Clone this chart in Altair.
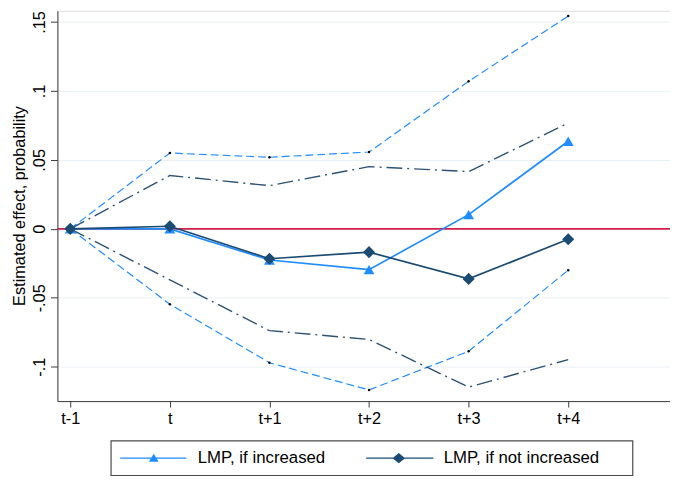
import altair as alt
import pandas as pd

# ---- data ----
periods = [-1, 0, 1, 2, 3, 4]
x_labels = ["t-1", "t", "t+1", "t+2", "t+3", "t+4"]
inc_est = [0.0, 0.0, -0.0226, -0.0296, 0.0103, 0.0635]
inc_hi = [0.0, 0.0550, 0.0519, 0.0557, 0.1070, 0.1543]
inc_lo = [0.0, -0.0547, -0.0971, -0.1168, -0.0888, -0.0300]
not_est = [0.0, 0.0019, -0.0217, -0.0169, -0.0363, -0.0076]
not_hi = [0.0, 0.0387, 0.0313, 0.0451, 0.0415, 0.0767]
not_lo = [0.0, -0.0370, -0.0738, -0.0802, -0.1148, -0.0948]
y_ticks = [-0.1, -0.05, 0, 0.05, 0.1, 0.15]
y_labels = ["-.1", "-.05", "0", ".05", ".1", ".15"]
series = ["LMP, if increased", "LMP, if not increased"]

FONT = "Liberation Sans"
LB = "#1f8cff"
NAVY = "#1b4a72"
NAVY_CI = "#2c5276"
RED = "#d61f48"
AX = "#3c3c3c"

df = pd.DataFrame({
    "period": periods,
    "inc_est": inc_est, "inc_hi": inc_hi, "inc_lo": inc_lo,
    "not_est": not_est, "not_hi": not_hi, "not_lo": not_lo,
})

x_expr = f"{x_labels}[datum.value - ({periods[0]})]"
y_step = y_ticks[1] - y_ticks[0]
y_expr = f"{y_labels}[round((datum.value - ({y_ticks[0]})) / {y_step})]"

x_enc = alt.X(
    "period:Q",
    scale=alt.Scale(domain=[-1.129, 5.022], nice=False, zero=False),
    axis=alt.Axis(values=periods, labelExpr=x_expr, title=None, grid=False,
                  tickSize=6, labelPadding=4, labelFontSize=16.5, labelFont=FONT,
                  labelColor="black", domainColor=AX, tickColor=AX,
                  labelAngle=0),
)
y_scale = alt.Scale(domain=[-0.1249, 0.1581], nice=False, zero=False)
y_axis = alt.Axis(values=y_ticks, labelExpr=y_expr, labelAngle=270,
                  labelAlign="center", labelBaseline="alphabetic",
                  tickSize=7, labelPadding=6, labelFontSize=16.5, labelFont=FONT,
                  labelColor="black", domainColor=AX, tickColor=AX,
                  grid=True, gridColor="#e8f0f3", gridWidth=1,
                  title="Estimated effect, probability", titleAngle=270,
                  titleX=-33, titleY=197, titleAlign="center",
                  titleBaseline="alphabetic", titleFont=FONT,
                  titleFontSize=16.5, titleFontWeight="normal",
                  titleColor="black")

base = alt.Chart(df)

zero_rule = base.mark_rule(color=RED, strokeWidth=1.6).encode(
    y=alt.Y("z:Q", scale=y_scale, axis=y_axis)
).transform_calculate(z="0").transform_filter("datum.period == 0")


def line(field, color, width, dash=None):
    kw = dict(color=color, strokeWidth=width)
    if dash:
        kw["strokeDash"] = dash
    return base.mark_line(**kw).encode(
        x=x_enc, y=alt.Y(f"{field}:Q", scale=y_scale, axis=y_axis))


def dots(field):
    return base.mark_circle(color="black", size=6, opacity=1).encode(
        x=x_enc, y=alt.Y(f"{field}:Q", scale=y_scale, axis=y_axis))


def markers(field, shape, color, size):
    return base.mark_point(filled=True, shape=shape, color=color, size=size,
                           opacity=1, strokeWidth=0).encode(
        x=x_enc, y=alt.Y(f"{field}:Q", scale=y_scale, axis=y_axis))


# legend symbols: a line with the marker on it
tri_path = "M-1,-0.09H7.375V0.09H-1Z M3.25,-0.55L3.875,0.45L2.625,0.45Z"
dia_path = "M-1,-0.09H7.5V0.09H-1Z M3.125,-0.65L3.925,0L3.125,0.65L2.325,0Z"

pad_sp = "\u2800" * 2
leg = alt.Legend(
    title=None, orient="none", legendX=54, legendY=435, direction="horizontal",
    symbolSize=256, symbolStrokeWidth=0, symbolOpacity=1,
    labelOffset=62, columnPadding=40, padding=9,
    strokeColor="#4a4a4a", fillColor="white", cornerRadius=0,
    labelFont=FONT, labelFontSize=17, labelColor="black", labelLimit=400,
    labelExpr=f"datum.label + (datum.label == '{series[1]}' ? '{pad_sp}' : '')",
)
leg_df = pd.DataFrame({"series": series, "period": [0, 0], "v": [0.0, 0.0]})
legend_layer = alt.Chart(leg_df).transform_filter("datum.v > 1").mark_point(
    filled=True, size=256, strokeWidth=0, opacity=1
).encode(
    x=x_enc,
    y=alt.Y("v:Q", scale=y_scale, axis=y_axis),
    fill=alt.Fill("series:N", scale=alt.Scale(domain=series, range=[LB, NAVY]),
                  legend=leg),
    shape=alt.Shape("series:N", scale=alt.Scale(domain=series, range=[tri_path, dia_path]),
                    legend=leg),
)

chart = alt.layer(
    zero_rule,
    line("inc_hi", LB, 1.2, [8, 4]),
    line("inc_lo", LB, 1.2, [8, 4]),
    line("not_hi", NAVY_CI, 1.4, [16, 5, 2, 5]),
    line("not_lo", NAVY_CI, 1.4, [16, 5, 2, 5]),
    dots("inc_hi"),
    dots("inc_lo"),
    line("inc_est", LB, 1.7),
    line("not_est", NAVY, 1.7),
    markers("inc_est", "triangle-up", LB, 121),
    markers("not_est", "diamond", NAVY, 150),
    legend_layer,
).properties(
    width=620, height=395,
    autosize=alt.AutoSizeParams(type="none"),
    padding={"left": 50, "top": 0, "right": 0, "bottom": 75},
).configure_view(stroke=None).configure(font=FONT).configure_legend(strokeWidth=1.2)

chart.save("out.html", embed_options={"renderer": "svg", "actions": False})
